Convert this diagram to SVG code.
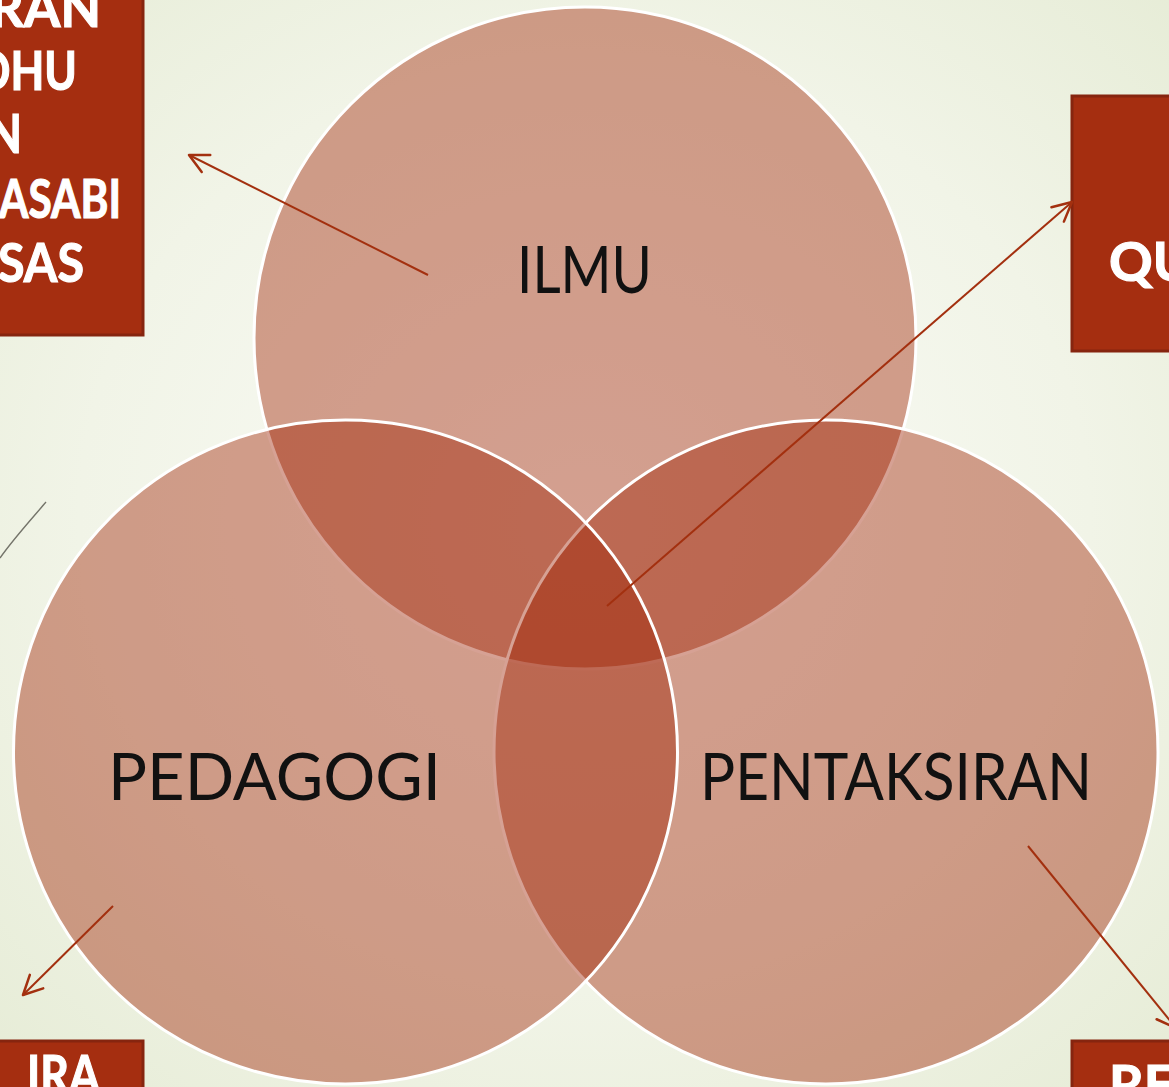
<svg xmlns="http://www.w3.org/2000/svg" width="1169" height="1087" viewBox="0 0 1169 1087">
  <defs>
    <radialGradient id="bg" cx="0.5" cy="0.48" r="0.72">
      <stop offset="0" stop-color="#fbfcf8"/>
      <stop offset="0.6" stop-color="#f1f4e7"/>
      <stop offset="1" stop-color="#e6ecd6"/>
    </radialGradient>
    <marker id="arr" markerUnits="userSpaceOnUse" markerWidth="30" markerHeight="30" viewBox="-25 -15 30 30" refX="0" refY="0" orient="auto">
      <path d="M-19,-9.5 L0,0 L-19,9.5" fill="none" stroke="#a3300f" stroke-width="2.5" stroke-linecap="round" stroke-linejoin="round"/>
    </marker>
  </defs>
  <style>
    .circ { fill: rgb(158,30,0); fill-opacity: 0.42; stroke: #ffffff; stroke-width: 3; }
    .lbl { font-family: Lato, "Noto Sans", "DejaVu Sans", sans-serif; font-size: 66px; fill: #111111; font-weight: 400; }
    .box { fill: #a52e10; stroke: #86250f; stroke-width: 3; }
    .bt { font-family: Lato, "Open Sans", "DejaVu Sans", sans-serif; font-size: 54px; font-weight: 700; fill: #ffffff; stroke: #ffffff; stroke-width: 1.2; }
    .con { fill: none; stroke: #a3300f; stroke-width: 2; }
  </style>
  <rect x="0" y="0" width="1169" height="1087" fill="url(#bg)"/>

  <g id="box-topleft">
    <rect class="box" x="-10" y="-10" width="153" height="345"/>
    <text class="bt" x="-10" y="27" textLength="111" lengthAdjust="spacingAndGlyphs">RAN</text>
    <text class="bt" x="-25" y="90" textLength="102" lengthAdjust="spacingAndGlyphs">OHU</text>
    <text class="bt" x="-13" y="153" textLength="35" lengthAdjust="spacingAndGlyphs">N</text>
    <text class="bt" x="-1" y="218" textLength="122" lengthAdjust="spacingAndGlyphs">ASABI</text>
    <text class="bt" x="-2" y="282" textLength="86" lengthAdjust="spacingAndGlyphs">SAS</text>
  </g>

  <g id="box-topright">
    <rect class="box" x="1072" y="96" width="110" height="255"/>
    <text class="bt" x="1109" y="281">QU</text>
  </g>

  <g id="box-bottomleft">
    <rect class="box" x="-10" y="1041" width="153" height="60"/>
    <text class="bt" x="27" y="1094" textLength="73" lengthAdjust="spacingAndGlyphs">IRA</text>
  </g>

  <g id="box-bottomright">
    <rect class="box" x="1072" y="1041" width="110" height="60"/>
    <text class="bt" x="1109" y="1104">RE</text>
  </g>

  <g id="circle-ilmu">
    <circle class="circ" cx="585" cy="338" r="331"/>
    <text class="lbl" x="517" y="293" textLength="135" lengthAdjust="spacingAndGlyphs">ILMU</text>
  </g>

  <g id="circle-pentaksiran">
    <circle class="circ" cx="826" cy="752" r="332"/>
    <text class="lbl" x="700" y="800" textLength="392" lengthAdjust="spacingAndGlyphs">PENTAKSIRAN</text>
  </g>

  <g id="circle-pedagogi">
    <circle class="circ" cx="345.5" cy="752" r="332"/>
    <text class="lbl" x="108" y="800" textLength="333" lengthAdjust="spacingAndGlyphs">PEDAGOGI</text>
  </g>

  <g id="connectors">
    <line class="con" x1="428" y1="275" x2="189" y2="155" marker-end="url(#arr)"/>
    <line class="con" x1="607" y1="606" x2="1072" y2="202" marker-end="url(#arr)"/>
    <line class="con" x1="113" y1="906" x2="23" y2="995" marker-end="url(#arr)"/>
    <line class="con" x1="1028" y1="846" x2="1176" y2="1028" marker-end="url(#arr)"/>
    <path d="M46,502 C36,514 14,538 0,558" fill="none" stroke="#74746a" stroke-width="1.4"/>
  </g>
</svg>
